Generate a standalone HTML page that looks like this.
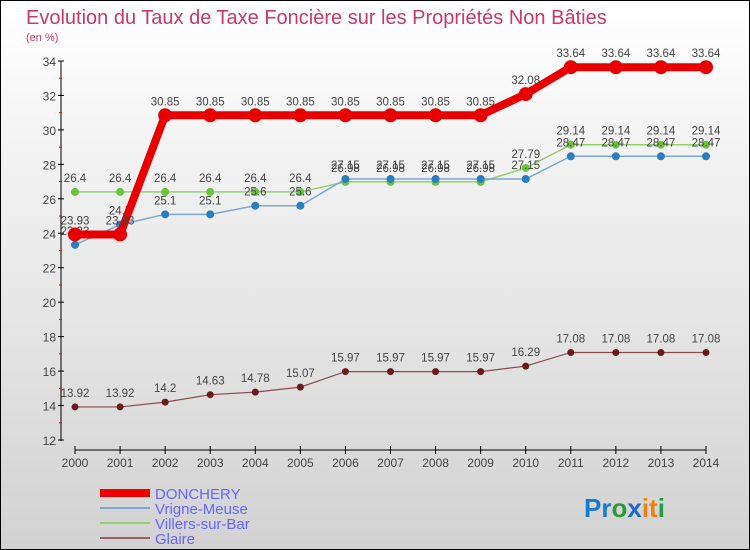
<!DOCTYPE html>
<html><head><meta charset="utf-8"><style>
body{margin:0}
#c{width:750px;height:550px;position:relative;box-sizing:border-box;border:1px solid #000;background:linear-gradient(#fff,#d2d2d2);font-family:"Liberation Sans",sans-serif;overflow:hidden}
</style></head><body>
<div id="c">
<svg id="s" width="750" height="550" style="position:absolute;left:-1px;top:-1px">
<text x="26" y="24" font-size="20" fill="#c8386c">Evolution du Taux de Taxe Foncière sur les Propriétés Non Bâties</text>
<text x="26" y="41" font-size="11" fill="#c8386c">(en %)</text>
<g id="g"></g>
<g>
<line x1="100" y1="493" x2="150" y2="493" stroke="#e00" stroke-width="8"/>
<text x="155" y="499" font-size="15" fill="#66f">DONCHERY</text>
<line x1="100" y1="508" x2="150" y2="508" stroke="#7aa8cf" stroke-width="2"/>
<text x="155" y="514" font-size="15" fill="#66f">Vrigne-Meuse</text>
<line x1="100" y1="523" x2="150" y2="523" stroke="#90d070" stroke-width="2"/>
<text x="155" y="529" font-size="15" fill="#66f">Villers-sur-Bar</text>
<line x1="100" y1="538" x2="150" y2="538" stroke="#9a6060" stroke-width="2"/>
<text x="155" y="544" font-size="15" fill="#66f">Glaire</text>
</g>
<text x="584" y="517" font-size="26" font-weight="bold"><tspan fill="#1a7ad0">Pr</tspan><tspan fill="#2a9a3a">o</tspan><tspan fill="#1a6ad0">x</tspan><tspan fill="#f08010">it</tspan><tspan fill="#20a040">i</tspan></text>
</svg>
</div>
<script>
const years=[2000,2001,2002,2003,2004,2005,2006,2007,2008,2009,2010,2011,2012,2013,2014];
const donchery=[23.93,23.93,30.85,30.85,30.85,30.85,30.85,30.85,30.85,30.85,32.08,33.64,33.64,33.64,33.64];
const vrigne=[23.33,24.5,25.1,25.1,25.6,25.6,27.15,27.15,27.15,27.15,27.15,28.47,28.47,28.47,28.47];
const villers=[26.4,26.4,26.4,26.4,26.4,26.4,26.98,26.98,26.98,26.98,27.79,29.14,29.14,29.14,29.14];
const glaire=[13.92,13.92,14.2,14.63,14.78,15.07,15.97,15.97,15.97,15.97,16.29,17.08,17.08,17.08,17.08];
const yTicks=[12,14,16,18,20,22,24,26,28,30,32,34];
const NS="http://www.w3.org/2000/svg";
const g=document.getElementById('g');
const xs=i=>75+i*(706-75)/14;
const ys=v=>440-(v-12)*(440-61)/22;
function el(t,a,p){const e=document.createElementNS(NS,t);for(const k in a)e.setAttribute(k,a[k]);(p||g).appendChild(e);return e;}
let ax=el('line',{x1:61,y1:61,x2:61,y2:441,stroke:'#000'});


let bx=el('line',{x1:75,y1:450,x2:706,y2:450,stroke:'#000'});


yTicks.forEach((v,k)=>{
  el('line',{x1:58,x2:64,y1:ys(v),y2:ys(v),stroke:'#000'});
  if(k<yTicks.length-1)el('line',{x1:59,x2:62,y1:ys(v+1),y2:ys(v+1),stroke:'#e00'});
  const t=el('text',{x:56,y:ys(v)+5,'font-size':12,fill:'#444','text-anchor':'end'});
  t.textContent=v;
  
  
});
years.forEach((y,i)=>{
  el('line',{x1:xs(i),x2:xs(i),y1:446,y2:454,stroke:'#000'});
  const t=el('text',{x:xs(i),y:467,'font-size':12,fill:'#444','text-anchor':'middle'});
  t.textContent=y;
  
  
});
function series(vals,name,col,w,r,dot){
  const p=el('polyline',{points:vals.map((v,i)=>xs(i)+','+ys(v)).join(' '),fill:'none',stroke:col,'stroke-width':w});
  
  
  vals.forEach((v,i)=>{
    const c=el('circle',{cx:xs(i),cy:ys(v),r:r,fill:dot});
    
    
    const t=el('text',{x:xs(i),y:ys(v)-10,'font-size':11.5,fill:'#444','text-anchor':'middle'});
    t.textContent=v;
    
    
  });
}
series(glaire,'glaire','#8a4a4a',1.2,3.5,'#6a1a1a');
series(villers,'villers-sur-bar','#90d070',1.5,4,'#6ac53a');
series(vrigne,'vrigne-meuse','#7aa8cf',1.5,4,'#2a7ec0');
series(donchery,'donchery','#e80000',8,7,'#e80000');
</script>
</body></html>
